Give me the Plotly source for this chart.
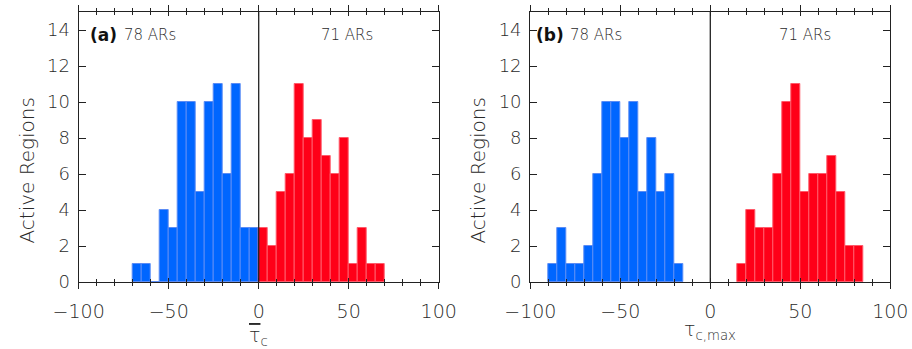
import plotly.graph_objects as go

# ---------------- data ----------------
# panel (a): mean tau_c
a_neg_edges = [-70, -65, -60, -55, -50, -45, -40, -35, -30, -25, -20, -15, -10, -5]
a_neg_counts = [1, 1, 0, 4, 3, 10, 10, 5, 10, 11, 6, 11, 3, 3]
a_pos_edges = [0, 5, 10, 15, 20, 25, 30, 35, 40, 45, 50, 55, 60, 65]
a_pos_counts = [3, 2, 5, 6, 11, 8, 9, 7, 6, 8, 1, 3, 1, 1]
# panel (b): tau_c,max
b_neg_edges = [-90, -85, -80, -75, -70, -65, -60, -55, -50, -45, -40, -35, -30, -25, -20]
b_neg_counts = [1, 3, 1, 1, 2, 6, 10, 10, 8, 10, 5, 8, 5, 6, 1]
b_pos_edges = [15, 20, 25, 30, 35, 40, 45, 50, 55, 60, 65, 70, 75, 80]
b_pos_counts = [1, 4, 3, 3, 6, 10, 11, 5, 6, 6, 7, 5, 2, 2]
bin_width = 5

x_ticks = [-100, -50, 0, 50, 100]
x_ticklabels = ["\u2212100", "\u221250", "0", "50", "100"]
y_ticks = [0, 2, 4, 6, 8, 10, 12, 14]

BLUE = "#0066ff"
BLUE_EDGE = "#5b8cf5"
RED = "#ff0018"
RED_EDGE = "#ff5a6a"
AXC = "#222222"
TXT = "#2a2a2a"
FONT = "DejaVu Sans"
LIGHT = 200

fig = go.Figure()

def add_hist(edges, counts, color, edge, xa, ya):
    fig.add_trace(go.Bar(x=edges, y=counts, width=bin_width, offset=0,
                         marker=dict(color=color, line=dict(color=edge, width=1)),
                         xaxis=xa, yaxis=ya, showlegend=False, hoverinfo="skip"))

add_hist(a_neg_edges, a_neg_counts, BLUE, BLUE_EDGE, "x", "y")
add_hist(a_pos_edges, a_pos_counts, RED, RED_EDGE, "x", "y")
add_hist(b_neg_edges, b_neg_counts, BLUE, BLUE_EDGE, "x2", "y2")
add_hist(b_pos_edges, b_pos_counts, RED, RED_EDGE, "x2", "y2")

# empty traces so the overlay (inside-tick) axes are drawn
fig.add_trace(go.Scatter(x=[], y=[], xaxis="x3", yaxis="y", showlegend=False))
fig.add_trace(go.Scatter(x=[], y=[], xaxis="x4", yaxis="y2", showlegend=False))

xdom_a = [78.7 / 912, 438.7 / 912]
xdom_b = [530.3 / 912, 890.3 / 912]

def xaxis(dom, anchor):
    return dict(domain=dom, anchor=anchor, range=[-100, 100], showgrid=False, zeroline=False,
                automargin=False,
                showline=True, linecolor=AXC, linewidth=1.3, mirror="ticks",
                ticks="outside", ticklen=6, tickwidth=1, tickcolor=AXC,
                tickvals=x_ticks, ticktext=x_ticklabels, ticklabelstandoff=6,
                tickfont=dict(family=FONT, size=19, color=TXT, weight=LIGHT),
                minor=dict(dtick=10, ticks="outside", ticklen=3, tickwidth=1, tickcolor=AXC))

def xover(dom, over, anchor):
    return dict(domain=dom, overlaying=over, anchor=anchor, range=[-100, 100], showgrid=False,
                automargin=False,
                zeroline=False, showline=False, mirror="ticks", ticks="inside", ticklen=4,
                tickwidth=1, tickcolor=AXC, tickvals=x_ticks, showticklabels=False,
                minor=dict(dtick=10, ticks="inside", ticklen=3, tickwidth=1, tickcolor=AXC))

def yaxis(anchor):
    return dict(domain=[0, 1], anchor=anchor, range=[0, 15], showgrid=False, zeroline=False,
                automargin=False,
                showline=True, linecolor=AXC, linewidth=1.3, mirror="ticks",
                ticks="inside", ticklen=7, tickwidth=1, tickcolor=AXC,
                tickvals=y_ticks, ticklabelstandoff=4,
                tickfont=dict(family=FONT, size=18, color=TXT, weight=LIGHT))

fig.update_layout(
    width=912, height=349,
    margin=dict(l=0, r=0, t=12, b=67, autoexpand=False),
    paper_bgcolor="white", plot_bgcolor="white",
    bargap=0,
    xaxis=xaxis(xdom_a, "y"), yaxis=yaxis("x"),
    xaxis2=xaxis(xdom_b, "y2"), yaxis2=yaxis("x2"),
    xaxis3=xover(xdom_a, "x", "y"), xaxis4=xover(xdom_b, "x2", "y2"),
)

for xr, yr in (("x", "y domain"), ("x2", "y2 domain")):
    fig.add_shape(type="line", xref=xr, yref=yr, x0=0, x1=0, y0=0, y1=1,
                  line=dict(color=AXC, width=1.3), layer="above")

def ann(text, x, y, xref, yref, size, xanchor="center", weight=LIGHT, angle=0, color=TXT):
    fig.add_annotation(text=text, x=x, y=y, xref=xref, yref=yref, showarrow=False,
                       xanchor=xanchor, yanchor="middle", textangle=angle,
                       font=dict(family=FONT, size=size, color=color, weight=weight))

ann("(a)", -86.5, 13.75, "x", "y", 17, weight=700, color="#111111")
ann("78 ARs", -76, 13.75, "x", "y", 15, xanchor="left")
ann("71 ARs", 49, 13.75, "x", "y", 15)
ann("(b)", -89, 13.75, "x2", "y2", 17, weight=700, color="#111111")
ann("78 ARs", -79, 13.75, "x2", "y2", 15, xanchor="left")
ann("71 ARs", 52.5, 13.75, "x2", "y2", 15)

ann("Active Regions", 27 / 912, 0.413, "paper", "paper", 20, angle=-90)
ann("Active Regions", 478 / 912, 0.413, "paper", "paper", 20, angle=-90)
ann("<span style='text-decoration:overline'>\u03c4</span><sub>c</sub>", 0, -0.2, "x", "paper", 19)
ann("\u03c4<sub>c,max</sub>", 0, -0.18, "x2", "paper", 19)

fig.write_html("out.html", config={"displayModeBar": False},
               post_script="document.body.style.margin='0';document.body.style.overflow='hidden';")
